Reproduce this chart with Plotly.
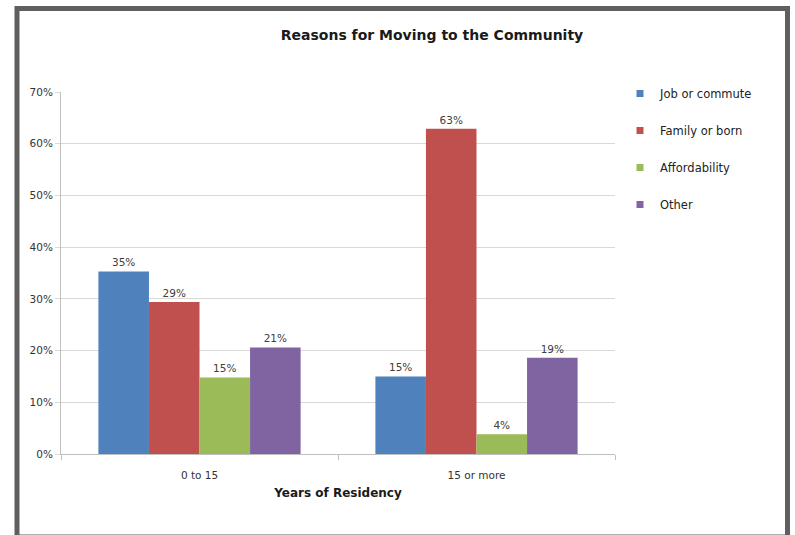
import plotly.graph_objects as go

categories = ["0 to 15", "15 or more"]
series_names = ["Job or commute", "Family or born", "Affordability", "Other"]
job_or_commute = [35.3, 15.0]
family_or_born = [29.4, 62.9]
affordability = [14.8, 3.8]
other = [20.6, 18.6]
labels_job = ["35%", "15%"]
labels_family = ["29%", "63%"]
labels_afford = ["15%", "4%"]
labels_other = ["21%", "19%"]
y_ticks = [0, 10, 20, 30, 40, 50, 60, 70]
y_tick_labels = ["0%", "10%", "20%", "30%", "40%", "50%", "60%", "70%"]

colors = ["#4F81BD", "#C0504D", "#9BBB59", "#8064A2"]
values = [job_or_commute, family_or_born, affordability, other]
texts = [labels_job, labels_family, labels_afford, labels_other]

FONT = "DejaVu Sans"
fig = go.Figure()
for name, vals, txt, col in zip(series_names, values, texts, colors):
    fig.add_trace(go.Bar(
        x=categories, y=vals, name=name, text=txt,
        textposition="outside", cliponaxis=False,
        textfont=dict(family=FONT, size=10.5, color="#404040"),
        marker=dict(color=col, line=dict(width=0)),
        showlegend=False,
    ))
# legend entries with small square swatches
for name, col in zip(series_names, colors):
    fig.add_trace(go.Scatter(
        x=[None], y=[None], mode="markers", name=name,
        marker=dict(symbol="square", size=7, color=col),
        legendgroup=name, showlegend=True,
    ))

W, H = 795, 535
L, R, T, B = 61, 180, 92, 81
pw, ph = W - L - R, H - T - B

def px(x):
    return (x - L) / pw

def py(y):
    return (H - B - y) / ph

fig.update_layout(
    width=W, height=H,
    margin=dict(l=L, r=R, t=T, b=B),
    paper_bgcolor="white", plot_bgcolor="white",
    font=dict(family=FONT, color="#333333", size=11),
    barmode="group", bargap=0.27, bargroupgap=0,
    title=dict(text="<b>Reasons for Moving to the Community</b>",
               x=432 / W, xanchor="center", y=1 - 35 / H, yanchor="middle",
               font=dict(family=FONT, size=14, color="#1a1a1a")),
    legend=dict(x=px(620), xanchor="left", y=py(79), yanchor="top",
                font=dict(family=FONT, size=11.5, color="#222222"),
                tracegroupgap=18, itemwidth=30, bgcolor="rgba(0,0,0,0)"),
    xaxis=dict(
        showline=True, linecolor="#bfbfbf", linewidth=1,
        ticks="outside", tickson="boundaries", ticklen=5, tickcolor="#bfbfbf",
        tickfont=dict(family=FONT, size=10.5, color="#333333"),
        ticklabelstandoff=11,
        title=dict(text="<b>Years of Residency</b>", standoff=9,
                   font=dict(family=FONT, size=12, color="#1a1a1a")),
    ),
    yaxis=dict(
        range=[0, 70], tickvals=y_ticks, ticktext=y_tick_labels,
        showgrid=True, gridcolor="#d9d9d9", gridwidth=1,
        showline=True, linecolor="#bfbfbf", linewidth=1,
        ticks="outside", ticklen=5, tickcolor="#d9d9d9",
        tickfont=dict(family=FONT, size=10.5, color="#333333"),
        zeroline=False,
    ),
    shapes=[dict(type="rect", xref="paper", yref="paper",
                 x0=px(17), x1=px(787.5), y0=py(537), y1=py(8.5),
                 line=dict(color="#5f5f5f", width=5), fillcolor="rgba(0,0,0,0)",
                 layer="below")],
)

fig.write_html("out.html")
